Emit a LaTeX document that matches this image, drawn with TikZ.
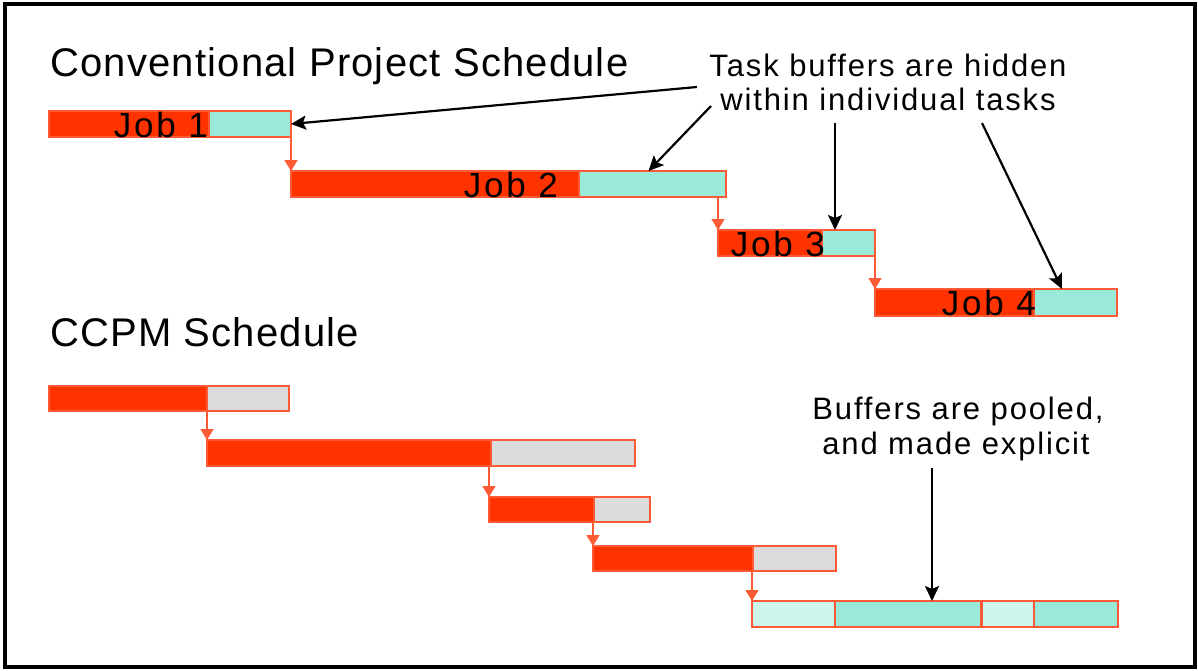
\documentclass[tikz,border=0pt]{standalone}
\usepackage{fontspec}
\setmainfont{Liberation Sans}
\newfontfamily\spacedfont[LetterSpace=6]{Liberation Sans}
\newfontfamily\jobfont[LetterSpace=8]{Liberation Sans}
\newfontfamily\titlefont[LetterSpace=3]{Liberation Sans}
\usetikzlibrary{arrows.meta,calc}
\definecolor{jobred}{HTML}{FF3300}
\definecolor{edgered}{HTML}{FF5A36}
\definecolor{bufcyan}{HTML}{99EAD9}
\definecolor{lightcyan}{HTML}{CCF5EC}
\definecolor{bufgray}{HTML}{DCDCDC}
\begin{document}
\begin{tikzpicture}[x=1pt,y=-1pt,
  barbox/.style={draw=edgered, line width=1.4pt, inner sep=0pt, outer sep=0pt, anchor=north west},
  jobbar/.style={barbox, fill=jobred},
  bufbar/.style={barbox, fill=bufcyan},
  graybar/.style={barbox, fill=bufgray},
  lightbar/.style={barbox, fill=lightcyan},
  titletext/.style={inner sep=0pt, anchor=base west, font=\titlefont\fontsize{40}{44}\selectfont},
  bodytext/.style={inner sep=0pt, anchor=base, font=\spacedfont\fontsize{31}{35}\selectfont},
  joblabel/.style={inner sep=0pt, anchor=base east, font=\jobfont\fontsize{35}{35}\selectfont},
  link/.style={draw=edgered, line width=1.4pt, -{Triangle[length=11pt,width=13pt]}},
  pointer/.style={draw=black, line width=2.2pt, -{Stealth[length=15pt,width=14pt,inset=3pt]}}
]
% canvas and frame
\fill[white] (0,0) rectangle (1198,670);
\draw[black, line width=4.5pt] (5,4) rectangle (1195,667);

% titles
\node[titletext] (title1) at (50,76) {Conventional Project Schedule};
\node[titletext] (title2) at (50,346) {CCPM Schedule};

% conventional schedule
\node[jobbar, minimum width=160pt, minimum height=26pt] (j1) at (49,111) {};
\node[bufbar, minimum width=82pt, minimum height=26pt] (b1) at (209,111) {};
\node[jobbar, minimum width=288pt, minimum height=26pt] (j2) at (291,171) {};
\node[bufbar, minimum width=147pt, minimum height=26pt] (b2) at (579,171) {};
\node[jobbar, minimum width=104pt, minimum height=26pt] (j3) at (718,230) {};
\node[bufbar, minimum width=53pt, minimum height=26pt] (b3) at (822,230) {};
\node[jobbar, minimum width=159pt, minimum height=27pt] (j4) at (875,289) {};
\node[bufbar, minimum width=83pt, minimum height=27pt] (b4) at (1034,289) {};

\node[joblabel] (l1) at (208,137) {Job 1};
\node[joblabel] (l2) at (558,197) {Job 2};
\node[joblabel] (l3) at (825,256) {Job 3};
\node[joblabel] (l4) at (1036,315) {Job 4};

\draw[link] (b1.south east) -- (j2.north west);
\draw[link] (j3.north west |- b2.south) -- (j3.north west);
\draw[link] (b3.south east) -- (j4.north west);

% CCPM schedule
\node[jobbar, minimum width=158pt, minimum height=25pt] (c1) at (49,386) {};
\node[graybar, minimum width=82pt, minimum height=25pt] (g1) at (207,386) {};
\node[jobbar, minimum width=284pt, minimum height=26pt] (c2) at (207,440) {};
\node[graybar, minimum width=144pt, minimum height=26pt] (g2) at (491,440) {};
\node[jobbar, minimum width=105pt, minimum height=25pt] (c3) at (489,497) {};
\node[graybar, minimum width=56pt, minimum height=25pt] (g3) at (594,497) {};
\node[jobbar, minimum width=160pt, minimum height=25pt] (c4) at (593,546) {};
\node[graybar, minimum width=83pt, minimum height=25pt] (g4) at (753,546) {};

\node[lightbar, minimum width=83pt, minimum height=26pt] (p1) at (752,601) {};
\node[bufbar, minimum width=146pt, minimum height=26pt] (p2) at (835,601) {};
\node[lightbar, minimum width=52pt, minimum height=26pt] (p3) at (982,601) {};
\node[bufbar, minimum width=84pt, minimum height=26pt] (p4) at (1034,601) {};

\draw[link] (c2.north west |- c1.south) -- (c2.north west);
\draw[link] (c3.north west |- c2.south) -- (c3.north west);
\draw[link] (c4.north west |- c3.south) -- (c4.north west);
\draw[link] (p1.north west |- c4.south) -- (p1.north west);

% annotations
\node[bodytext] (task1) at (888,76) {Task buffers are hidden};
\node[bodytext] (task2) at (888,110) {within individual tasks};
\node[bodytext] (pool1) at (958,419) {Buffers are pooled,};
\node[bodytext] (pool2) at (956,454) {and made explicit};

\coordinate (s1) at (697,87);
\coordinate (s2) at (711,106);
\coordinate (s3) at (835,123);
\coordinate (s4) at (982,123);
\coordinate (s5) at (932,468);

\draw[pointer] (s1) -- (b1.east);
\draw[pointer] (s2) -- ($(b2.north)+(-4,0)$);
\draw[pointer] (s3) -- (s3 |- b3.north);
\draw[pointer] (s4) -- ($(b4.north west)+(28,0)$);
\draw[pointer] (s5) -- (s5 |- p2.north);
\end{tikzpicture}
\end{document}
